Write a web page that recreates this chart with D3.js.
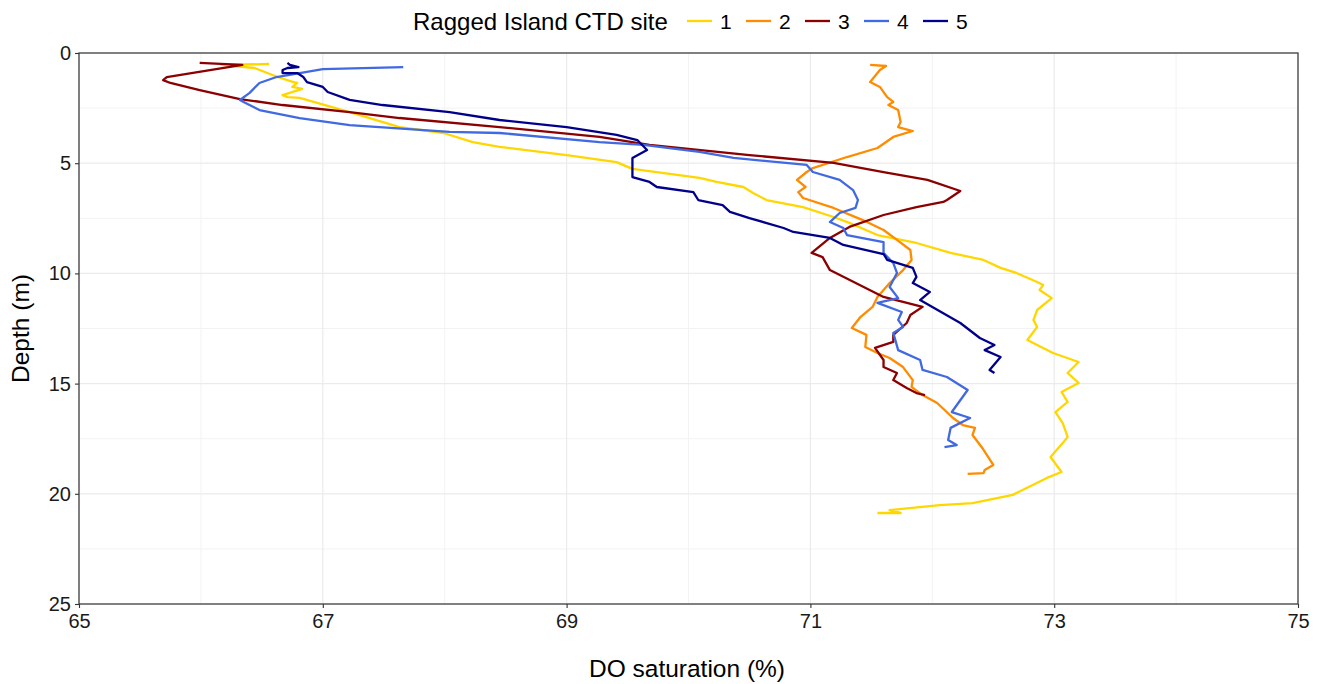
<!DOCTYPE html>
<html><head><meta charset="utf-8">
<script src="https://cdn.jsdelivr.net/npm/d3@7"></script>
<style>body{margin:0;background:#fff;} svg{display:block;font-family:"Liberation Sans",Arial,sans-serif;}</style>
</head><body>
<svg id="chart" width="1323" height="684"></svg>
<script>
// Each series: [DO saturation (%), depth (m)]
const site1 = [[66.56,0.50],[66.17,0.54],[66.44,0.68],[66.63,1.09],[66.76,1.32],[66.79,1.36],[66.75,1.54],[66.83,1.63],[66.67,1.91],[66.71,2.00],[66.81,2.04],[67.22,2.68],[67.63,3.36],[67.99,3.63],[68.23,4.04],[68.45,4.26],[69.00,4.63],[69.41,4.95],[69.54,5.26],[70.09,5.67],[70.23,5.85],[70.45,6.08],[70.53,6.35],[70.64,6.67],[70.94,6.99],[71.19,7.44],[71.32,7.71],[71.55,8.26],[71.87,8.62],[72.15,9.07],[72.42,9.39],[72.56,9.75],[72.69,9.98],[72.86,10.39],[72.91,10.53],[72.88,10.75],[72.98,11.12],[72.86,11.66],[72.83,12.11],[72.86,12.43],[72.78,13.02],[72.99,13.61],[73.20,14.02],[73.11,14.52],[73.20,14.97],[73.06,15.38],[73.11,15.83],[73.01,16.29],[73.07,16.79],[73.11,17.42],[73.07,17.70],[72.97,18.33],[73.06,19.01],[72.94,19.28],[72.66,20.05],[72.33,20.42],[72.06,20.51],[71.65,20.74],[71.74,20.87],[71.55,20.87]];
const site2 = [[71.49,0.54],[71.62,0.59],[71.57,0.77],[71.49,1.32],[71.57,1.54],[71.63,2.00],[71.68,2.22],[71.64,2.36],[71.72,2.59],[71.74,3.13],[71.72,3.36],[71.84,3.54],[71.68,3.81],[71.55,4.31],[71.30,4.72],[71.02,5.22],[70.97,5.40],[70.89,5.76],[70.96,6.08],[70.90,6.31],[70.94,6.58],[71.19,7.03],[71.43,7.58],[71.60,8.03],[71.71,8.48],[71.82,8.94],[71.83,9.39],[71.76,9.85],[71.65,10.44],[71.55,11.07],[71.51,11.52],[71.41,11.98],[71.34,12.48],[71.46,12.79],[71.45,13.34],[71.55,13.61],[71.65,13.84],[71.76,14.25],[71.84,14.84],[71.83,15.15],[71.92,15.52],[72.04,15.88],[72.17,16.56],[72.25,16.88],[72.35,17.01],[72.33,17.33],[72.41,17.92],[72.50,18.69],[72.43,18.92],[72.42,19.06],[72.29,19.10]];
const site3 = [[65.99,0.45],[66.34,0.54],[65.72,1.09],[65.69,1.23],[65.75,1.36],[65.99,1.68],[66.32,2.09],[66.67,2.36],[67.22,2.68],[67.63,2.95],[68.45,3.36],[69.27,3.81],[69.68,4.17],[70.50,4.63],[71.19,4.99],[71.60,5.40],[71.96,5.76],[72.23,6.26],[72.12,6.67],[72.09,6.76],[71.87,6.99],[71.60,7.35],[71.32,7.89],[71.16,8.39],[71.01,9.07],[71.10,9.26],[71.16,9.85],[71.60,11.07],[71.92,11.52],[71.82,11.89],[71.79,12.25],[71.68,12.79],[71.68,13.11],[71.53,13.38],[71.60,13.93],[71.60,14.25],[71.71,14.52],[71.68,14.84],[71.79,15.20],[71.87,15.43],[71.94,15.52]];
const site4 = [[67.66,0.64],[67.00,0.73],[66.81,0.91],[66.62,1.09],[66.48,1.36],[66.40,1.81],[66.32,2.13],[66.35,2.22],[66.48,2.59],[66.81,2.95],[67.22,3.27],[68.04,3.58],[68.45,3.63],[69.27,4.04],[69.63,4.17],[70.09,4.49],[70.37,4.76],[70.97,5.08],[71.02,5.40],[71.24,5.76],[71.35,6.22],[71.39,6.67],[71.37,7.03],[71.24,7.26],[71.16,7.67],[71.27,7.94],[71.30,8.26],[71.60,8.58],[71.60,9.07],[71.68,9.53],[71.71,9.98],[71.65,10.62],[71.72,11.12],[71.55,11.34],[71.75,11.75],[71.72,12.11],[71.76,12.43],[71.68,12.70],[71.72,13.48],[71.90,13.93],[71.92,14.38],[72.12,14.70],[72.29,15.29],[72.16,16.29],[72.31,16.56],[72.15,17.01],[72.13,17.56],[72.20,17.79],[72.10,17.88]];
const site5 = [[66.71,0.45],[66.73,0.54],[66.80,0.64],[66.71,0.68],[66.67,0.77],[66.67,0.91],[66.79,0.91],[66.84,1.09],[66.87,1.32],[67.00,1.54],[67.04,1.77],[67.22,2.13],[67.49,2.36],[68.04,2.68],[68.45,3.04],[69.00,3.36],[69.41,3.72],[69.58,3.95],[69.66,4.40],[69.54,4.76],[69.54,5.22],[69.54,5.63],[69.68,5.85],[69.74,6.08],[70.04,6.31],[70.08,6.67],[70.28,6.90],[70.34,7.21],[70.50,7.49],[70.78,7.94],[70.86,8.12],[71.16,8.39],[71.27,8.71],[71.60,9.12],[71.63,9.39],[71.84,9.75],[71.87,10.16],[71.84,10.44],[71.98,10.84],[71.90,11.21],[72.23,12.25],[72.39,12.93],[72.51,13.25],[72.43,13.48],[72.56,13.79],[72.47,14.38],[72.51,14.52]];

const siteNames = ["1","2","3","4","5"];
const siteData = [site1, site2, site3, site4, site5];
const siteColors = ["#FFD700","#FF8C00","#8B0000","#4169E1","#00008B"];
const xTicks = [65,67,69,71,73,75];
const xMinor = [66,68,70,72,74];
const yTicks = [0,5,10,15,20,25];
const yMinor = [2.5,7.5,12.5,17.5,22.5];
const legendTitle = "Ragged Island CTD site";
const xTitle = "DO saturation (%)";
const yTitle = "Depth (m)";

const svg = d3.select("#chart");
const L = 79, R = 1298, T = 53, B = 604;
const x = d3.scaleLinear().domain([65,75]).range([L,R]);
const y = d3.scaleLinear().domain([0,25]).range([T,B]);

const grid = svg.append("g");
grid.selectAll(".xm").data(xMinor).enter().append("line")
  .attr("x1",d=>x(d)).attr("x2",d=>x(d)).attr("y1",T).attr("y2",B)
  .attr("stroke","#f3f3f3").attr("stroke-width",1);
grid.selectAll(".ym").data(yMinor).enter().append("line")
  .attr("x1",L).attr("x2",R).attr("y1",d=>y(d)).attr("y2",d=>y(d))
  .attr("stroke","#f3f3f3").attr("stroke-width",1);
grid.selectAll(".xM").data(xTicks).enter().append("line")
  .attr("x1",d=>x(d)).attr("x2",d=>x(d)).attr("y1",T).attr("y2",B)
  .attr("stroke","#ebebeb").attr("stroke-width",1.2);
grid.selectAll(".yM").data(yTicks).enter().append("line")
  .attr("x1",L).attr("x2",R).attr("y1",d=>y(d)).attr("y2",d=>y(d))
  .attr("stroke","#ebebeb").attr("stroke-width",1.2);

const line = d3.line().x(d=>x(d[0])).y(d=>y(d[1]));
svg.append("g").selectAll("path").data(siteData).enter().append("path")
  .attr("d", line).attr("fill","none")
  .attr("stroke",(d,i)=>siteColors[i]).attr("stroke-width",2.3)
  .attr("stroke-linejoin","round").attr("stroke-linecap","butt");

svg.append("rect").attr("x",L).attr("y",T).attr("width",R-L).attr("height",B-T)
  .attr("fill","none").attr("stroke","#333").attr("stroke-width",1.2);

const xAxis = svg.append("g").attr("transform",`translate(0,${B})`)
  .call(d3.axisBottom(x).tickValues(xTicks).tickSize(4).tickPadding(6).tickFormat(d3.format("d")));
const yAxis = svg.append("g").attr("transform",`translate(${L},0)`)
  .call(d3.axisLeft(y).tickValues(yTicks).tickSize(4).tickPadding(4).tickFormat(d3.format("d")));
[xAxis,yAxis].forEach(a=>{
  a.select(".domain").remove();
  a.selectAll(".tick line").attr("stroke","#333").attr("stroke-width",1.1);
  a.selectAll(".tick text").attr("fill","#1a1a1a").style("font-size","20px").style("font-family","Liberation Sans, Arial, sans-serif");
});

svg.append("text").attr("x",687).attr("y",677).attr("text-anchor","middle")
  .style("font-size","24.5px").attr("fill","#000").text(xTitle);
svg.append("text").attr("transform",`translate(29,${(T+B)/2}) rotate(-90)`).attr("text-anchor","middle")
  .style("font-size","24.5px").attr("fill","#000").text(yTitle);

const lg = svg.append("g");
lg.append("text").attr("x",413).attr("y",30).style("font-size","24px").attr("fill","#000").text(legendTitle);
const keyX = [687,746,805,864,923];
siteNames.forEach((n,i)=>{
  lg.append("line").attr("x1",keyX[i]).attr("x2",keyX[i]+25).attr("y1",21).attr("y2",21)
    .attr("stroke",siteColors[i]).attr("stroke-width",2.3);
  lg.append("text").attr("x",keyX[i]+33).attr("y",29).style("font-size","21px").attr("fill","#000").text(n);
});
</script>
</body></html>
